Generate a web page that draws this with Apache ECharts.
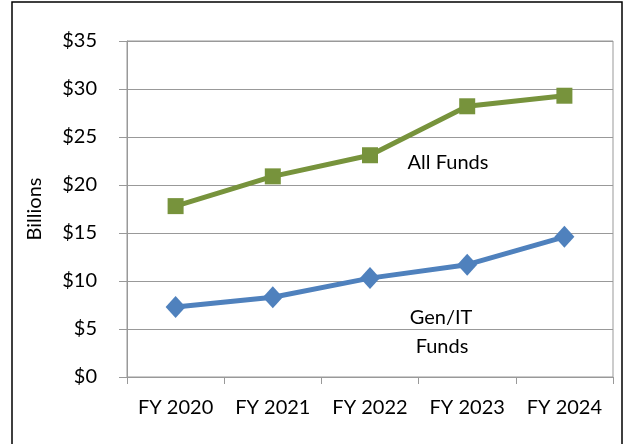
<!DOCTYPE html>
<html>
<head>
<meta charset="utf-8">
<script src="https://cdn.jsdelivr.net/npm/echarts@6/dist/echarts.min.js"></script>
<style>
html, body { margin: 0; padding: 0; background: #fff; }
#main { width: 625px; height: 444px; }
</style>
</head>
<body>
<div id="main"></div>
<script>
var years = ['FY 2020', 'FY 2021', 'FY 2022', 'FY 2023', 'FY 2024'];
var allFunds = [17.8, 20.9, 23.1, 28.2, 29.3];
var genItFunds = [7.3, 8.3, 10.3, 11.7, 14.6];

var myChart = echarts.init(document.getElementById('main'));
var font = 'Lato, "Open Sans", sans-serif';

var option = {
	backgroundColor: '#fff',
	animation: false,
	graphic: [
		{
			type: 'rect',
			shape: { x: 12, y: 2, width: 610, height: 460 },
			style: { fill: 'none', stroke: '#000', lineWidth: 1.5 }
		},
		{
			type: 'text',
			x: 448, y: 163,
			style: { text: 'All Funds', fontSize: 20, fontFamily: font, fill: '#000', align: 'center', verticalAlign: 'middle' }
		},
		{
			type: 'text',
			x: 441, y: 318,
			style: { text: 'Gen/IT', fontSize: 20, fontFamily: font, fill: '#000', align: 'center', verticalAlign: 'middle' }
		},
		{
			type: 'text',
			x: 442, y: 347,
			style: { text: 'Funds', fontSize: 20, fontFamily: font, fill: '#000', align: 'center', verticalAlign: 'middle' }
		}
	],
	grid: {
		left: 127,
		right: 12,
		top: 41,
		bottom: 67,
		show: true,
		borderColor: '#999',
		borderWidth: 1
	},
	xAxis: {
		type: 'category',
		data: years,
		boundaryGap: true,
		axisLine: { lineStyle: { color: '#999' } },
		axisTick: { show: true, length: 7, alignWithLabel: false, lineStyle: { color: '#999' } },
		axisLabel: { interval: 0, margin: 21, fontSize: 20, fontFamily: font, color: '#000' }
	},
	yAxis: {
		type: 'value',
		min: 0,
		max: 35,
		interval: 5,
		name: 'Billions',
		nameLocation: 'middle',
		nameGap: 82,
		nameRotate: 90,
		nameTextStyle: { fontSize: 20, fontFamily: font, color: '#000' },
		axisLine: { show: true, lineStyle: { color: '#999' } },
		axisTick: { show: true, length: 8, lineStyle: { color: '#999' } },
		splitLine: { lineStyle: { color: '#999' } },
		axisLabel: {
			margin: 30,
			fontSize: 20,
			fontFamily: font,
			color: '#000',
			formatter: function (v) { return '$' + v; }
		}
	},
	series: [
		{
			name: 'All Funds',
			type: 'line',
			data: allFunds,
			symbol: 'rect',
			symbolSize: 16,
			lineStyle: { width: 5, color: '#77933c' },
			itemStyle: { color: '#77933c' }
		},
		{
			name: 'Gen/IT Funds',
			type: 'line',
			data: genItFunds,
			symbol: 'diamond',
			symbolSize: [20, 22],
			lineStyle: { width: 5, color: '#4f81bd' },
			itemStyle: { color: '#4f81bd' }
		}
	]
};
myChart.setOption(option, true);
</script>
</body>
</html>
